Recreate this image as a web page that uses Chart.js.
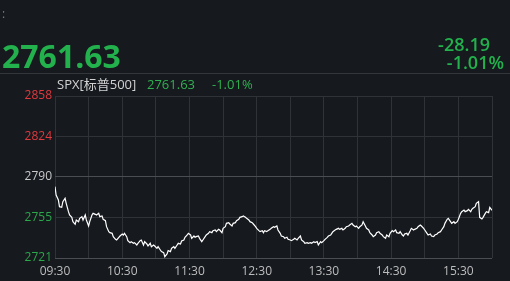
<!DOCTYPE html>
<html><head><meta charset="utf-8">
<script src="https://cdn.jsdelivr.net/npm/chart.js@4.4.1/dist/chart.umd.min.js"></script>
<style>
html,body{margin:0;padding:0;background:#16191e;width:510px;height:281px;overflow:hidden;}
#wrap{position:absolute;left:0;top:0;width:510px;height:281px;}
.t{position:absolute;white-space:nowrap;line-height:1;font-family:"Open Sans","Noto Sans CJK SC",sans-serif;}
#sep{position:absolute;left:0;top:73px;width:510px;height:1px;background:#33363b;}
</style></head><body>
<div id="wrap"><canvas id="c"></canvas></div>
<div id="sep"></div>
<div class="t" style="left:2px;top:8px;font-size:12px;color:#7a7d82">:</div>
<div class="t" style="left:2px;top:40px;font-size:32px;font-weight:700;color:#22b14c">2761.63</div>
<div class="t" style="right:20px;top:35px;font-size:18px;font-weight:600;color:#22b14c">-28.19</div>
<div class="t" style="right:6px;top:53px;font-size:18px;font-weight:600;color:#22b14c">-1.01%</div>
<div class="t" style="left:57px;top:77.5px;font-size:13px;color:#d2d2d2">SPX[标普500]</div>
<div class="t" style="left:147px;top:77.5px;font-size:13px;color:#2fb150">2761.63</div>
<div class="t" style="left:212px;top:77.5px;font-size:13px;color:#2fb150">-1.01%</div>
<script>
// minutes since 09:30
const times = [0,1,3,4,6,7,9,10,12,13,15,16,18,19,21,22,24,25,27,28,30,31,33,34,36,37,39,40,42,43,
45,46,48,49,51,52,54,55,57,58,60,61,62,64,65,67,68,70,71,73,74,76,77,79,80,82,83,85,86,88,
89,91,92,94,95,97,98,100,101,103,104,106,107,109,110,112,113,115,116,118,119,121,122,124,125,126,128,129,131,132,
134,135,137,138,140,141,143,144,146,147,149,150,152,153,155,156,158,159,161,162,164,165,167,168,170,171,173,174,176,177,
179,180,182,183,185,186,187,189,190,192,193,195,196,198,199,201,202,204,205,207,208,210,211,213,214,216,217,219,220,222,
223,225,226,228,229,231,232,234,235,237,238,240,241,243,244,246,247,248,250,251,253,254,256,257,259,260,262,263,265,266,
268,269,271,272,274,275,277,278,280,281,283,284,286,287,289,290,292,293,295,296,298,299,301,302,304,305,307,308,310,311,
312,314,315,317,318,320,321,323,324,326,327,329,330,332,333,335,336,338,339,341,342,344,345,347,348,350,351,353,354,356,
357,359,360,362,363,365,366,368,369,371,372,373,375,376,378,379,381,382,384,385,387,388,390];
const prices = [2781.63,2774.57,2770.34,2764.69,2764.13,2768.93,2771.75,2767.52,2760.46,2757.64,
2755.66,2751.99,2749.74,2753.41,2751.99,2754.82,2756.23,2753.41,2757.64,2753.41,
2748.33,2751.99,2757.64,2759.05,2758.20,2757.64,2759.05,2756.23,2756.79,2753.97,
2752.84,2747.76,2743.53,2742.68,2742.12,2739.30,2737.04,2736.47,2738.73,2739.86,
2741.55,2740.71,2742.12,2739.30,2735.91,2734.22,2735.06,2733.65,2734.22,2732.24,
2733.65,2735.91,2736.47,2732.24,2735.06,2733.09,2731.39,2733.65,2730.83,2732.24,
2731.39,2729.42,2730.83,2728.01,2726.60,2725.75,2722.36,2724.62,2727.44,2726.60,
2729.42,2730.83,2729.42,2732.24,2733.65,2733.09,2735.63,2736.47,2738.73,2740.71,
2742.12,2740.71,2737.88,2739.86,2738.73,2739.30,2739.86,2737.88,2735.06,2736.47,
2739.30,2740.71,2742.12,2743.53,2742.68,2744.38,2744.94,2743.53,2745.50,2744.94,
2742.68,2746.35,2747.76,2750.58,2751.15,2750.02,2748.33,2750.58,2751.15,2752.84,
2753.97,2755.66,2756.23,2756.79,2755.66,2754.82,2753.41,2751.99,2751.15,2750.02,
2747.76,2746.35,2744.38,2743.53,2744.38,2742.68,2744.38,2743.53,2744.38,2745.50,
2746.35,2747.76,2747.20,2748.33,2744.94,2742.12,2739.86,2739.30,2737.88,2738.73,
2737.04,2736.47,2735.91,2737.04,2737.88,2736.47,2737.88,2739.86,2736.47,2735.06,
2733.65,2734.22,2733.65,2734.22,2733.65,2735.06,2734.22,2735.06,2732.24,2735.06,
2734.22,2735.91,2737.04,2738.73,2739.86,2740.71,2742.12,2743.53,2744.94,2745.50,
2746.35,2745.50,2746.35,2744.94,2746.35,2747.76,2748.33,2749.17,2750.58,2749.17,
2747.76,2748.33,2746.35,2747.76,2749.17,2751.99,2748.33,2746.35,2744.94,2742.68,
2740.71,2739.30,2740.71,2742.68,2743.53,2742.12,2740.71,2739.30,2737.88,2740.71,
2739.30,2742.12,2744.38,2743.53,2744.94,2742.68,2742.12,2743.53,2740.71,2739.86,
2741.55,2742.12,2740.71,2744.38,2746.35,2744.94,2745.50,2746.35,2747.76,2749.17,
2748.33,2746.35,2744.94,2742.12,2740.71,2741.55,2739.86,2739.30,2740.71,2741.55,
2742.68,2743.53,2744.94,2747.76,2750.58,2753.97,2754.82,2751.99,2750.58,2751.99,
2750.58,2751.99,2753.97,2759.05,2760.46,2761.87,2760.46,2761.31,2762.44,2760.46,
2762.44,2763.28,2764.69,2767.52,2768.93,2755.66,2754.25,2755.66,2759.05,2760.46,
2759.61,2764.13,2761.63];
const xGridMinutes = [0,30,60,90,120,150,180,210,240,270,300,330,360,390];
const xGridLabels = ['09:30','','10:30','','11:30','','12:30','','13:30','','14:30','','15:30',''];
const yTickValues = [2721.22,2755.52,2789.82,2824.12,2858.42];
const yTickLabels = ['2721','2755','2790','2824','2858'];
const yTickColors = ['#2aa84a','#2aa84a','#c9c9c9','#e0393e','#e0393e'];

const pts = times.map((t,i)=>({x:t,y:prices[i]}));
new Chart(document.getElementById('c'),{
  type:'line',
  data:{datasets:[{data:pts,borderColor:'#ffffff',borderWidth:1.2,pointRadius:0,tension:0,fill:false}]},
  options:{
    responsive:true,maintainAspectRatio:false,animation:false,
    layout:{padding:{top:96,right:18,left:0,bottom:0}},
    plugins:{legend:{display:false},tooltip:{enabled:false}},
    scales:{
      x:{type:'linear',min:0,max:390,
        afterBuildTicks(s){s.ticks=xGridMinutes.map(v=>({value:v}));},
        afterFit(s){s.height=23;},
        grid:{color:'#2f3237',drawTicks:false,lineWidth:1},
        border:{display:false},
        ticks:{autoSkip:false,maxRotation:0,padding:6,color:'#bdbdbd',
          font:{family:'"Open Sans", sans-serif',size:12},
          callback:(v,i)=>xGridLabels[i]}
      },
      y:{type:'linear',min:2721.22,max:2858.42,
        afterBuildTicks(s){s.ticks=yTickValues.map(v=>({value:v}));},
        afterFit(s){s.width=55;},
        grid:{color:(ctx)=>(ctx.index===2||ctx.index===0)?'#4a4d52':'#2f3237',drawTicks:false,lineWidth:1},
        border:{display:false},
        ticks:{padding:3,color:(ctx)=>yTickColors[ctx.index],
          font:{family:'"Open Sans", sans-serif',size:12},
          callback:(v,i)=>yTickLabels[i]}
      }
    }
  }
});
</script>
</body></html>
